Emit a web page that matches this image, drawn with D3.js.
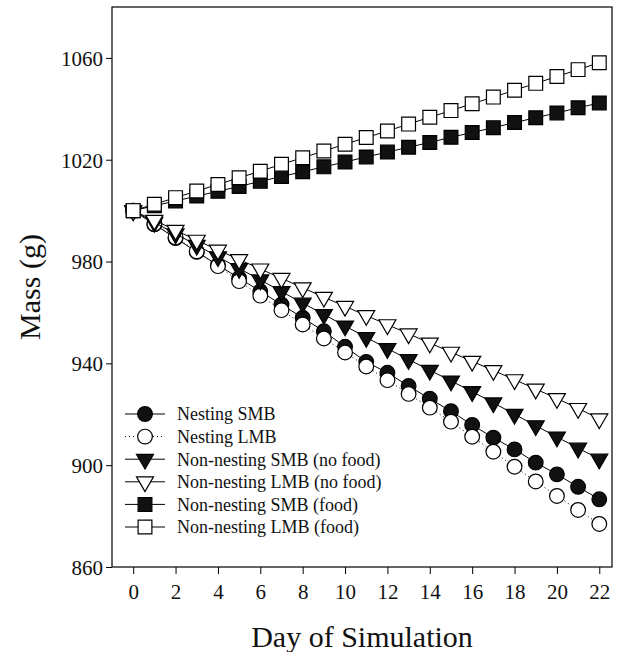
<!DOCTYPE html>
<html>
<head>
<meta charset="utf-8">
<script src="https://cdn.jsdelivr.net/npm/d3@7"></script>
<style>
  body { margin: 0; background: #fff; }
  svg { display: block; font-family: "Liberation Serif", "Times New Roman", serif; }
</style>
</head>
<body>
<div id="chart"></div>
<script>
// =========
// Data
// =========

var days = d3.range(0, 23);

var nestingSMB = [1000, 994.6, 989.2, 983.8, 978.6, 973.5, 968.3, 963.1, 957.9, 952.6, 946.5, 940.6,
                  936.3, 931.1, 926.1, 921.2, 915.8, 910.8, 906.2, 901.0, 896.4, 891.5, 886.6];
var nestingLMB = [1000, 994.8, 989.5, 984.0, 978.2, 972.3, 966.6, 960.9, 955.3, 949.8, 944.3, 938.8,
                  933.4, 928.0, 922.6, 917.1, 911.2, 905.3, 899.4, 893.6, 887.9, 882.4, 876.9];
var smbNoFood  = [1000, 995.4, 990.9, 986.4, 981.9, 977.3, 972.8, 968.2, 963.7, 959.2, 954.7, 950.2,
                  945.8, 941.5, 937.3, 933.1, 928.9, 924.5, 920.0, 915.5, 911.1, 906.7, 902.4];
var lmbNoFood  = [1000, 996.2, 992.3, 988.4, 984.5, 980.8, 977.1, 973.4, 969.7, 966.0, 962.4, 958.8,
                  955.2, 951.6, 948.0, 944.4, 940.8, 937.2, 933.6, 929.9, 926.2, 922.3, 918.2];
var smbFood    = [1000, 1001.9, 1003.8, 1005.7, 1007.6, 1009.5, 1011.5, 1013.4, 1015.3, 1017.2, 1019.1, 1021.1,
                  1023.0, 1024.9, 1026.8, 1028.8, 1030.7, 1032.6, 1034.6, 1036.5, 1038.4, 1040.4, 1042.3];
var lmbFood    = [1000, 1002.5, 1005.1, 1007.7, 1010.3, 1012.9, 1015.5, 1018.2, 1020.8, 1023.4, 1026.1, 1028.7,
                  1031.3, 1034.0, 1036.7, 1039.3, 1042.0, 1044.6, 1047.3, 1050.0, 1052.7, 1055.4, 1058.1];

var seriesNames = ['Nesting SMB', 'Nesting LMB', 'Non-nesting SMB (no food)',
                   'Non-nesting LMB (no food)', 'Non-nesting SMB (food)', 'Non-nesting LMB (food)'];
var seriesValues = [nestingSMB, nestingLMB, smbNoFood, lmbNoFood, smbFood, lmbFood];

var xTicks = d3.range(0, 23, 2);
var yTicks = [860, 900, 940, 980, 1020, 1060];

// marker style per series: shape, fill, line dash
var styles = [
    {shape: 'circle', fill: '#111', dash: null},
    {shape: 'circle', fill: '#fff', dash: '1,3'},
    {shape: 'triangle', fill: '#111', dash: null},
    {shape: 'triangle', fill: '#fff', dash: null},
    {shape: 'square', fill: '#111', dash: null},
    {shape: 'square', fill: '#fff', dash: null}
];

// =========
// Chart
// =========

var width = 619, height = 652;
var padding = {top: 7, left: 112, right: 7, bottom: 85};

var svg = d3.select('#chart').append('svg')
    .attr('width', width)
    .attr('height', height);

var x = d3.scaleLinear().domain([-1, 22.6]).range([padding.left, width - padding.right]);
var y = d3.scaleLinear().domain([860, 1080]).range([height - padding.bottom, padding.top]);

function markerPath(shape){
    if(shape == 'circle') return d3.symbol().type(d3.symbolCircle).size(170)();
    if(shape == 'square') return d3.symbol().type(d3.symbolSquare).size(190)();
    return d3.symbol().type(d3.symbolTriangle).size(125)();
}

function markerTransform(shape, px, py){
    var t = 'translate(' + px + ',' + py + ')';
    if(shape == 'triangle') t += ' rotate(180)';
    return t;
}

// frame
svg.append('rect')
    .attr('x', padding.left)
    .attr('y', padding.top)
    .attr('width', width - padding.left - padding.right)
    .attr('height', height - padding.top - padding.bottom)
    .attr('fill', 'none')
    .attr('stroke', '#000')
    .attr('stroke-width', 1.2);

// axes
var xAxis = svg.append('g')
    .attr('transform', 'translate(0,' + (height - padding.bottom) + ')')
    .call(d3.axisBottom(x).tickValues(xTicks).tickSize(7).tickPadding(10));
var yAxis = svg.append('g')
    .attr('transform', 'translate(' + padding.left + ',0)')
    .call(d3.axisLeft(y).tickValues(yTicks).tickFormat(d3.format('d')).tickSize(6).tickPadding(3));

[xAxis, yAxis].forEach(function(g){
    g.select('.domain').remove();
    g.selectAll('.tick line').attr('stroke', '#000').attr('stroke-width', 1);
    g.selectAll('.tick text')
        .attr('fill', '#111')
        .style('font-size', '21px')
        .style('font-family', '"Liberation Serif", serif');
});
yAxis.selectAll('.tick text').attr('dy', '0.35em');

// axis titles
svg.append('text')
    .attr('x', (padding.left + width - padding.right) / 2)
    .attr('y', 647)
    .attr('text-anchor', 'middle')
    .style('font-size', '30px')
    .attr('fill', '#111')
    .text('Day of Simulation');

svg.append('text')
    .attr('transform', 'translate(40,' + ((padding.top + height - padding.bottom) / 2) + ') rotate(-90)')
    .attr('text-anchor', 'middle')
    .style('font-size', '30px')
    .attr('fill', '#111')
    .text('Mass (g)');

// series
var line = d3.line()
    .x(function(d, i){ return x(days[i]); })
    .y(function(d){ return y(d); });

var plot = svg.append('g');

seriesValues.forEach(function(values, k){
    var st = styles[k];
    var g = plot.append('g').attr('class', 'series');
    g.append('path')
        .attr('d', line(values))
        .attr('fill', 'none')
        .attr('stroke', '#000')
        .attr('stroke-width', 1)
        .attr('stroke-dasharray', st.dash);
    g.selectAll('.mark')
        .data(values)
        .enter()
        .append('path')
        .attr('class', 'mark')
        .attr('d', markerPath(st.shape))
        .attr('transform', function(d, i){ return markerTransform(st.shape, x(days[i]), y(d)); })
        .attr('fill', st.fill)
        .attr('stroke', '#000')
        .attr('stroke-width', 1.2);
});

// legend
var legend = svg.append('g').attr('transform', 'translate(125,414)');
seriesNames.forEach(function(name, k){
    var st = styles[k];
    var row = legend.append('g').attr('transform', 'translate(0,' + (k * 22.6) + ')');
    row.append('line')
        .attr('x1', 0).attr('x2', 40)
        .attr('stroke', '#000')
        .attr('stroke-width', 1)
        .attr('stroke-dasharray', st.dash);
    row.append('path')
        .attr('d', markerPath(st.shape))
        .attr('transform', markerTransform(st.shape, 20, 0))
        .attr('fill', st.fill)
        .attr('stroke', '#000')
        .attr('stroke-width', 1.2);
    row.append('text')
        .attr('x', 52)
        .attr('dy', '0.35em')
        .style('font-size', '18px')
        .attr('fill', '#111')
        .text(name);
});
</script>
</body>
</html>
